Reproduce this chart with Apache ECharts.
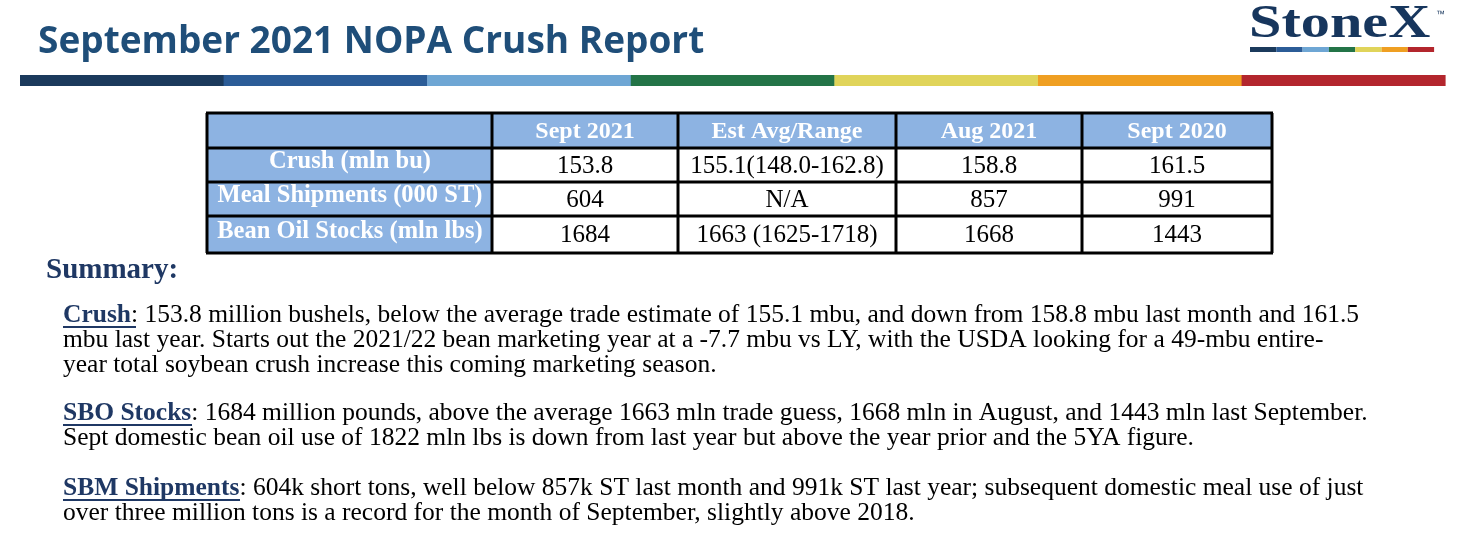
<!DOCTYPE html>
<html><head><meta charset="utf-8">
<script src="https://cdn.jsdelivr.net/npm/echarts@6/dist/echarts.min.js"></script>
<style>html,body{margin:0;padding:0;background:#fff}#c{width:1458px;height:533px}</style>
</head><body><div id="c"></div>
<script>
const columns = ['Sept 2021','Est Avg/Range','Aug 2021','Sept 2020'];
const rowLabels = ['Crush (mln bu)','Meal Shipments (000 ST)','Bean Oil Stocks (mln lbs)'];
const crush = ['153.8','155.1(148.0-162.8)','158.8','161.5'];
const meal = ['604','N/A','857','991'];
const oil = ['1684','1663 (1625-1718)','1668','1443'];
const stripeColors = ['#1b3a5c','#2b5c97','#6ea6d4','#237447','#e0d45a','#ef9f22','#b3262d'];
const summary = [
  {label:'Crush', lines:[': 153.8 million bushels, below the average trade estimate of 155.1 mbu, and down from 158.8 mbu last month and 161.5','mbu last year. Starts out the 2021/22 bean marketing year at a -7.7 mbu vs LY, with the USDA looking for a 49-mbu entire-','year total soybean crush increase this coming marketing season.']},
  {label:'SBO Stocks', lines:[': 1684 million pounds, above the average 1663 mln trade guess, 1668 mln in August, and 1443 mln last September.','Sept domestic bean oil use of 1822 mln lbs is down from last year but above the year prior and the 5YA figure.']},
  {label:'SBM Shipments', lines:[': 604k short tons, well below 857k ST last month and 991k ST last year; subsequent domestic meal use of just','over three million tons is a record for the month of September, slightly above 2018.']}
];
const values = [crush, meal, oil];
const chart = echarts.init(document.getElementById('c'));
const g = [];
const serif = '"Liberation Serif","Times New Roman",serif';
g.push({type:'text',left:38,top:24,style:{text:'September 2021 NOPA Crush Report',font:'bold 37px "Open Sans",sans-serif',fill:'#1f4e79'}});
g.push({type:'text',left:1249,top:1,scaleX:1.24,style:{text:'StoneX',font:'bold 47px "Liberation Serif",serif',fill:'#17365d'}});
g.push({type:'text',left:1436,top:10,style:{text:'™',font:'9px sans-serif',fill:'#17365d'}});
stripeColors.forEach((c,i)=>{
  g.push({type:'rect',shape:{x:1250+i*26.3,y:47,width:26.3,height:5},style:{fill:c}});
  g.push({type:'rect',shape:{x:20+i*203.6,y:75,width:204,height:11},style:{fill:c}});
});
const colX = [207,492,678,896,1082,1272];
const rowY = [113,148,182,216,253];
g.push({type:'rect',shape:{x:207,y:113,width:1065,height:35},style:{fill:'#8db3e2'}});
for(let r=1;r<4;r++) g.push({type:'rect',shape:{x:207,y:rowY[r],width:285,height:rowY[r+1]-rowY[r]},style:{fill:'#8db3e2'}});
colX.forEach(x=>g.push({type:'line',shape:{x1:x,y1:113,x2:x,y2:253},style:{stroke:'#000',lineWidth:3}}));
rowY.forEach(y=>g.push({type:'line',shape:{x1:206,y1:y,x2:1273,y2:y},style:{stroke:'#000',lineWidth:3}}));
columns.forEach((t,i)=>g.push({type:'text',x:(colX[i+1]+colX[i+2])/2,y:132,style:{text:t,font:'bold 24px '+serif,fill:'#fff',align:'center',verticalAlign:'middle'}}));
rowLabels.forEach((t,r)=>{
  const cy=(rowY[r+1]+rowY[r+2])/2;
  g.push({type:'text',x:350,y:cy-3,style:{text:t,font:'bold 24.5px '+serif,fill:'#fff',align:'center',verticalAlign:'middle'}});
  values[r].forEach((v,i)=>g.push({type:'text',x:(colX[i+1]+colX[i+2])/2,y:cy+1,style:{text:v,font:'25px '+serif,fill:'#000',align:'center',verticalAlign:'middle'}}));
});
g.push({type:'text',left:46,top:256,style:{text:'Summary:',font:'bold 29px '+serif,fill:'#1f3864'}});
const starts=[302,400,475];
const ulEnd=[136,192,240];
summary.forEach((s,k)=>{
  s.lines.forEach((ln,j)=>{
    const y=starts[k]+j*25;
    if(j===0){
      g.push({type:'text',left:63,top:y,style:{text:'{b|'+s.label+'}'+ln,font:'25.5px '+serif,fill:'#000',rich:{b:{fontWeight:'bold',fontFamily:serif,fontSize:25.5,fill:'#1f3864',color:'#1f3864'}}}});
      g.push({type:'line',shape:{x1:63,y1:y+25,x2:ulEnd[k],y2:y+25},style:{stroke:'#1f3864',lineWidth:2}});
    } else {
      g.push({type:'text',left:63,top:y,style:{text:ln,font:'25.5px '+serif,fill:'#000'}});
    }
  });
});
chart.setOption({animation:false,graphic:g});
</script></body></html>
